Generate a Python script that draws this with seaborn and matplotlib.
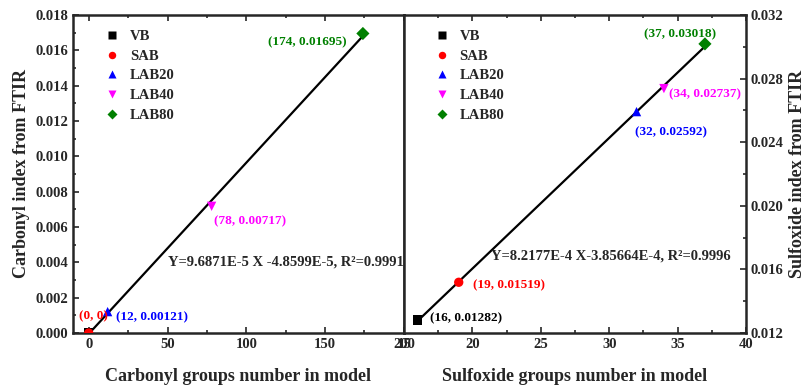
import numpy as np
import pandas as pd
import seaborn as sns
import matplotlib
matplotlib.use("Agg")
import matplotlib.pyplot as plt
from matplotlib.ticker import MultipleLocator, FormatStrFormatter

sns.set_style("ticks")
plt.rcParams["font.family"] = ["Liberation Serif", "DejaVu Serif"]
plt.rcParams["font.weight"] = "bold"
plt.rcParams["axes.labelweight"] = "bold"

samples = ["VB", "SAB", "LAB20", "LAB40", "LAB80"]
colors = ["black", "red", "blue", "magenta", "green"]
markers = ["s", "o", "^", "v", "D"]

carbonyl_x = [0, 0, 12, 78, 174]
carbonyl_y = [0.0, 0.0, 0.00121, 0.00717, 0.01695]
carbonyl_fit = (9.6871e-5, -4.8599e-5)
carbonyl_eq = "Y=9.6871E-5 X -4.8599E-5, R²=0.9991"

sulfoxide_x = [16, 19, 32, 34, 37]
sulfoxide_y = [0.01282, 0.01519, 0.02592, 0.02737, 0.03018]
sulfoxide_fit = (8.2177e-4, -3.85664e-4)
sulfoxide_eq = "Y=8.2177E-4 X-3.85664E-4, R²=0.9996"

# label text, color, offset (pt), ha
carbonyl_labels = [None,
                   ("(0, 0)", "red", (-7, 12), "left"),
                   ("(12, 0.00121)", "blue", (6, -4), "left"),
                   ("(78, 0.00717)", "magenta", (2, -11), "left"),
                   ("(174, 0.01695)", "green", (-12, -6), "right")]
sulfoxide_labels = [("(16, 0.01282)", "black", (9, 1), "left"),
                    ("(19, 0.01519)", "red", (10, -2), "left"),
                    ("(32, 0.02592)", "blue", (-1, -15), "left"),
                    ("(34, 0.02737)", "magenta", (4, -4), "left"),
                    ("(37, 0.03018)", "green", (-18, 7), "center")]

pal = dict(zip(samples, colors))
mk = dict(zip(samples, markers))

fig = plt.figure(figsize=(8.09, 3.86), dpi=100)
ax1 = fig.add_axes([0.0902, 0.1373, 0.409, 0.824])
ax2 = fig.add_axes([0.4994, 0.1373, 0.4227, 0.824])


def draw(ax, xs, ys, fit, eq, eqpos, labels, legx):
    df = pd.DataFrame({"x": xs, "y": ys, "sample": samples})
    xline = np.array([min(xs), max(xs)])
    ax.plot(xline, fit[0] * xline + fit[1], color="black", lw=1.6, zorder=2)
    sns.scatterplot(data=df, x="x", y="y", hue="sample", style="sample",
                    palette=pal, markers=mk, s=45, edgecolor="none",
                    ax=ax, zorder=3)
    ax.legend(loc="upper left", frameon=False, markerscale=0.8,
              bbox_to_anchor=(legx, 0.995), handletextpad=0.2,
              labelspacing=0.45, prop={"weight": "bold", "size": 10.5})
    for (x, y, lab) in zip(xs, ys, labels):
        if lab is None:
            continue
        ax.annotate(lab[0], (x, y), xytext=lab[2], textcoords="offset points",
                    ha=lab[3], va="center", color=lab[1], fontsize=9.5,
                    fontweight="bold")
    ax.text(eqpos[0], eqpos[1], eq, transform=ax.transAxes, fontsize=10.5,
            fontweight="bold", va="center", ha="left")
    ax.set_xlabel("")
    for sp in ax.spines.values():
        sp.set_linewidth(1.8)
        sp.set_visible(True)
    ax.tick_params(which="both", direction="in", top=True, width=1.2,
                   labelsize=10.5)
    ax.tick_params(which="major", length=4)
    ax.tick_params(which="minor", length=2.5)


draw(ax1, carbonyl_x, carbonyl_y, carbonyl_fit, carbonyl_eq, (0.287, 0.223),
     carbonyl_labels, 0.035)
draw(ax2, sulfoxide_x, sulfoxide_y, sulfoxide_fit, sulfoxide_eq, (0.254, 0.242),
     sulfoxide_labels, 0.03)

ax1.set_xlim(-10, 200)
ax1.set_ylim(0, 0.018)
ax1.xaxis.set_major_locator(MultipleLocator(50))
ax1.xaxis.set_minor_locator(MultipleLocator(25))
ax1.yaxis.set_major_locator(MultipleLocator(0.002))
ax1.yaxis.set_minor_locator(MultipleLocator(0.001))
ax1.yaxis.set_major_formatter(FormatStrFormatter("%.3f"))
ax1.set_ylabel("Carbonyl index from FTIR", fontsize=13, fontweight="bold")
ax1.set_xlabel("Carbonyl groups number in model", fontsize=13,
               fontweight="bold", labelpad=12)

ax2.set_xlim(15, 40)
ax2.set_ylim(0.012, 0.032)
ax2.xaxis.set_major_locator(MultipleLocator(5))
ax2.xaxis.set_minor_locator(MultipleLocator(2.5))
ax2.yaxis.set_major_locator(MultipleLocator(0.004))
ax2.yaxis.set_minor_locator(MultipleLocator(0.002))
ax2.yaxis.set_major_formatter(FormatStrFormatter("%.3f"))
ax2.yaxis.tick_right()
ax2.yaxis.set_label_position("right")
ax2.tick_params(which="both", left=False, right=True)
ax2.set_ylabel("Sulfoxide index from FTIR", fontsize=13, fontweight="bold")
ax2.set_xlabel("Sulfoxide groups number in model", fontsize=13,
               fontweight="bold", labelpad=12)

fig.savefig("out.png", dpi=100)
